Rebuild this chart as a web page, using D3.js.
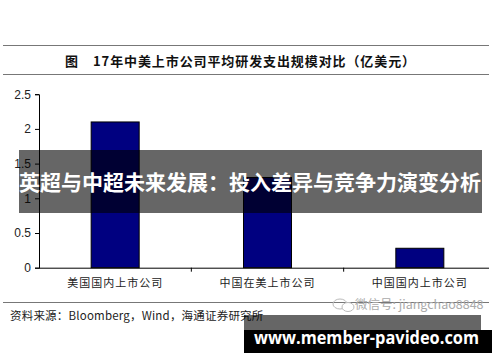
<!DOCTYPE html>
<html><head><meta charset="utf-8">
<script src="https://cdn.jsdelivr.net/npm/d3@7"></script>
<style>body{margin:0;background:#fff}svg{display:block}</style>
</head><body>
<svg id="c" width="500" height="362"></svg>
<script>
const categories = ["美国国内上市公司", "中国在美上市公司", "中国国内上市公司"];
const values = [2.1, 1.3, 0.28];
const yTicks = [0, 0.5, 1, 1.5, 2, 2.5];
const titleLabel = "图";
const titleText = "17年中美上市公司平均研发支出规模对比（亿美元）";
const sourceText = "资料来源：Bloomberg，Wind，海通证券研究所";
const bannerText = "英超与中超未来发展：投入差异与竞争力演变分析";
const watermarkText = "微信号: jiangchao8848";
const siteText = "www.member-pavideo.com";

const svg = d3.select("#c");
const cjk = "'Noto Sans CJK SC', 'Liberation Sans', sans-serif";
const arial = "'Liberation Sans', Arial, sans-serif";

// title rules
svg.append("line").attr("x1",3).attr("x2",489).attr("y1",45.5).attr("y2",45.5).attr("stroke","#777").attr("stroke-width",1.2);
svg.append("line").attr("x1",3).attr("x2",489).attr("y1",74.5).attr("y2",74.5).attr("stroke","#777").attr("stroke-width",1.2);
svg.append("text").attr("x",65).attr("y",66).attr("font-family",cjk).attr("font-size",13).attr("font-weight","bold").attr("fill","#111").text(titleLabel);
svg.append("text").attr("x",93).attr("y",66).attr("font-family",cjk).attr("font-size",13).attr("font-weight","bold").attr("letter-spacing",0.9).attr("fill","#111").text(titleText);

const x = d3.scaleBand().domain(categories).range([39, 496]).paddingInner(0).paddingOuter(0);
const y = d3.scaleLinear().domain([0, 2.5]).range([267.7, 94.2]);
const barW = 48;

// bars
svg.selectAll("rect.bar").data(values).enter().append("rect")
  .attr("class","bar")
  .attr("x",(d,i)=>x(categories[i]) + x.bandwidth()/2 - barW/2)
  .attr("y",d=>y(d))
  .attr("width",barW)
  .attr("height",d=>y(0)-y(d))
  .attr("fill","#000080").attr("stroke","#000").attr("stroke-width",1);

// y axis
const yAxis = d3.axisLeft(y).tickValues(yTicks).tickSize(4).tickPadding(4).tickFormat(d=>String(d));
const gy = svg.append("g").attr("transform","translate(39,0)").call(yAxis);
gy.select(".domain").attr("stroke","#000");
gy.selectAll(".tick line").attr("stroke","#000");
gy.selectAll("text").attr("font-family",arial).attr("font-size",12).attr("fill","#222");

// x axis
svg.append("line").attr("x1",39).attr("x2",489).attr("y1",y(0)+0.5).attr("y2",y(0)+0.5).attr("stroke","#000");
const xBoundaries = categories.slice(1).map(c=>x(c));
svg.selectAll("line.xt").data(xBoundaries).enter().append("line")
  .attr("class","xt").attr("x1",d=>d).attr("x2",d=>d).attr("y1",y(0)).attr("y2",y(0)+4).attr("stroke","#000");
svg.selectAll("text.xl").data(categories).enter().append("text")
  .attr("class","xl").attr("x",d=>x(d)+x.bandwidth()/2).attr("y",287)
  .attr("text-anchor","middle").attr("font-family",cjk).attr("font-size",11).attr("letter-spacing",1).attr("fill","#222").text(d=>d);

// footer
svg.append("line").attr("x1",3).attr("x2",489).attr("y1",302.5).attr("y2",302.5).attr("stroke","#777").attr("stroke-width",1.2);
svg.append("text").attr("x",10).attr("y",320).attr("font-family",cjk).attr("font-size",11.5).attr("letter-spacing",0.2).attr("fill","#222").text(sourceText);

// watermark
const wm = svg.append("g");
wm.append("ellipse").attr("cx",340).attr("cy",304).attr("rx",7).attr("ry",5).attr("fill","none").attr("stroke","#bbb");
wm.append("ellipse").attr("cx",348).attr("cy",307).attr("rx",6).attr("ry",4.5).attr("fill","#fff").attr("stroke","#bbb");
wm.append("text").attr("x",355).attr("y",309).attr("font-family",cjk).attr("font-size",12.5).attr("fill","#aaa").text(watermarkText);

// banner overlay
svg.append("rect").attr("x",19).attr("y",150).attr("width",463).attr("height",63).attr("fill","rgba(0,0,0,0.6)");
svg.append("text").attr("x",250).attr("y",190).attr("text-anchor","middle").attr("font-family",cjk).attr("font-size",21).attr("font-weight","bold").attr("fill","#fff").text(bannerText);

// site box
svg.append("rect").attr("x",244).attr("y",315).attr("width",237).attr("height",15).attr("fill","rgba(0,0,0,0.6)");
svg.append("rect").attr("x",244).attr("y",330).attr("width",248).attr("height",23).attr("fill","#000");
svg.append("text").attr("x",254).attr("y",344).attr("font-family","'Open Sans', sans-serif").attr("font-size",17).attr("font-weight","bold")
  .attr("textLength",225).attr("lengthAdjust","spacingAndGlyphs").attr("fill","#fff").text(siteText);
</script>
</body></html>
